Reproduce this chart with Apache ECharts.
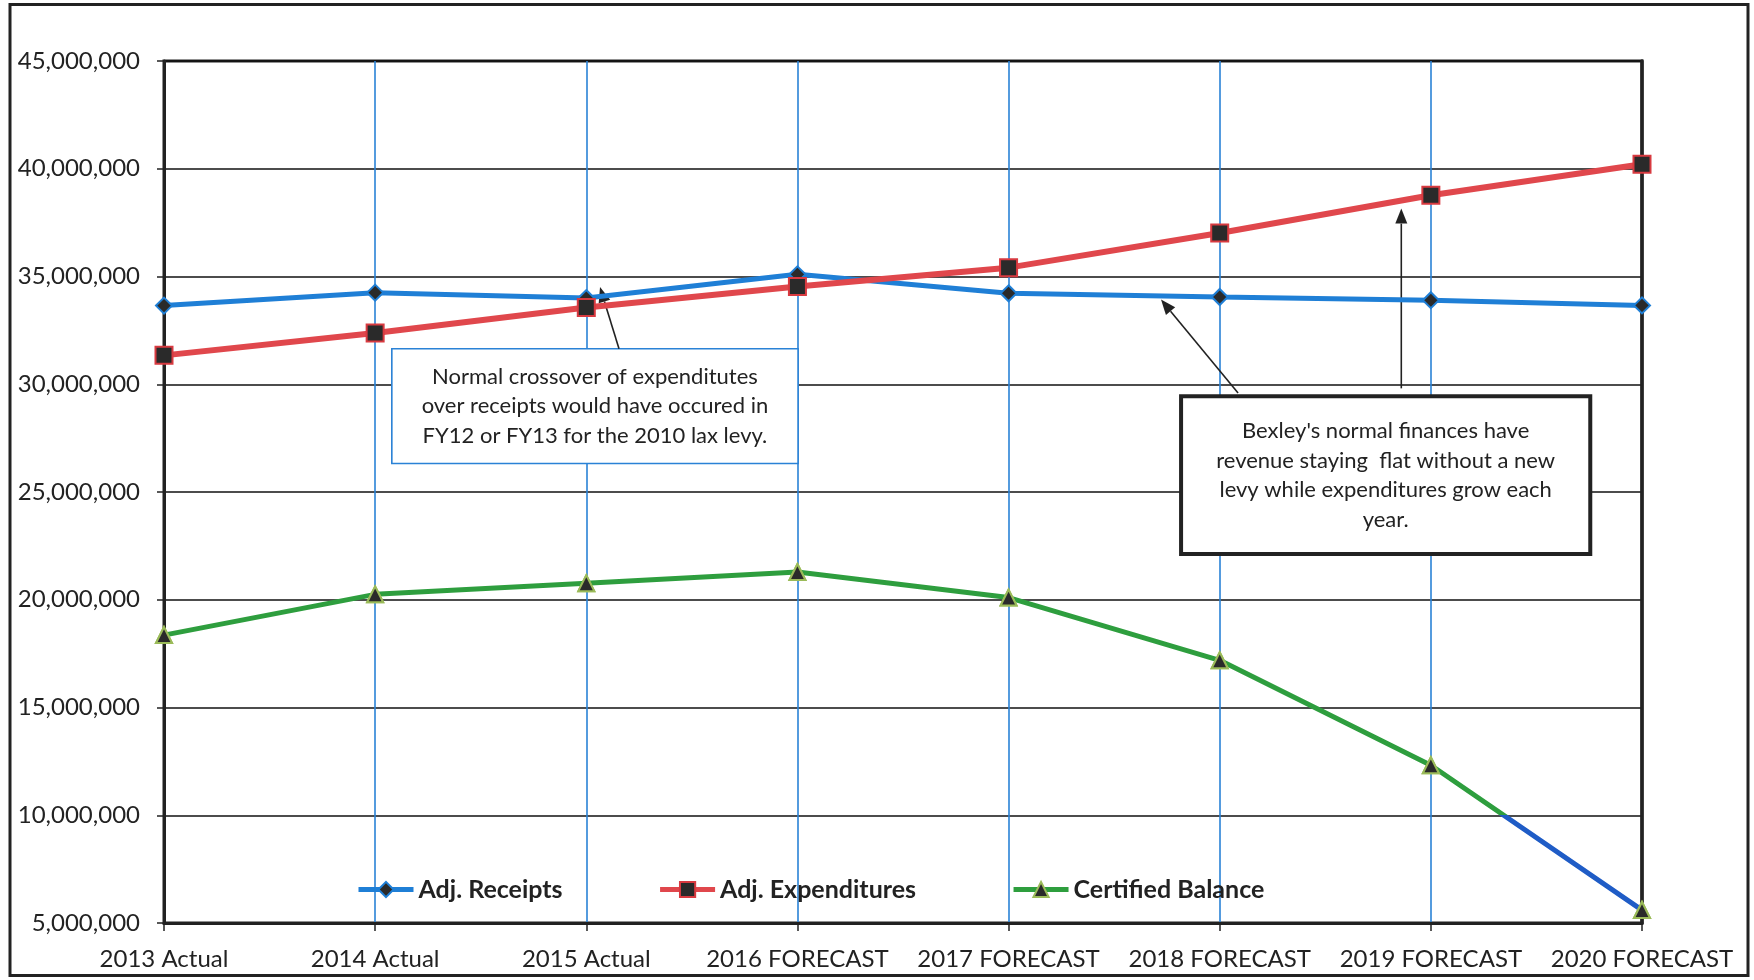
<!DOCTYPE html>
<html>
<head>
<meta charset="utf-8">
<title>Bexley Finances</title>
<script src="https://cdn.jsdelivr.net/npm/echarts@6/dist/echarts.min.js"></script>
<style>
  html, body { margin: 0; padding: 0; background: #ffffff; }
  #chart { width: 1754px; height: 980px; }
</style>
</head>
<body>
<div id="chart"></div>
<script>
// Fiscal years shown on the category axis
const years = ['2013 Actual', '2014 Actual', '2015 Actual', '2016 FORECAST',
               '2017 FORECAST', '2018 FORECAST', '2019 FORECAST', '2020 FORECAST'];

// Series values in dollars
const adjReceipts = [33650000, 34250000, 34000000, 35100000, 34220000, 34050000, 33900000, 33660000];
const adjExpenditures = [31340000, 32380000, 33560000, 34540000, 35410000, 37020000, 38770000, 40210000];
const certifiedBalance = [18360000, 20250000, 20770000, 21290000, 20100000, 17190000, 12320000, 5600000];

// Value axis range and step
const yMin = 5000000;
const yMax = 45000000;
const yStep = 5000000;

// Balance below this level is drawn in blue
const balanceWarnLevel = 10000000;

// Callout texts
const noteCrossover = [
  'Normal crossover of expenditutes',
  'over receipts would have occured in',
  'FY12 or FY13 for the 2010 lax levy.'
];
const noteFlat = [
  "Bexley's normal finances have",
  'revenue staying  flat without a new',
  'levy while expenditures grow each',
  'year.'
];

const FONT = 'Lato, "Open Sans", sans-serif';
const INK = '#222222';
const GREEN = '#2e9e3e';

const chart = echarts.init(document.getElementById('chart'), null, { renderer: 'canvas' });

const option = {
  backgroundColor: '#ffffff',
  animation: false,
  textStyle: { fontFamily: FONT, color: INK },
  grid: {
    left: 164, right: 112, top: 61, bottom: 57,
    show: true, borderColor: INK, borderWidth: 3, backgroundColor: 'transparent'
  },
  legend: {
    data: [
      { name: 'Adj. Receipts' },
      { name: 'Adj. Expenditures' },
      { name: 'Certified Balance', lineStyle: { color: GREEN, width: 5 } }
    ],
    left: 356, top: 877, padding: 0,
    itemWidth: 55, itemHeight: 19, itemGap: 95,
    lineStyle: { width: 5 },
    textStyle: { fontFamily: FONT, fontSize: 25, fontWeight: 'bold', color: INK }
  },
  visualMap: {
    show: false,
    type: 'piecewise',
    seriesIndex: 2,
    dimension: 1,
    pieces: [
      { min: 0, max: balanceWarnLevel, color: '#1f5cc6' },
      { min: balanceWarnLevel, max: 100000000, color: GREEN }
    ]
  },
  xAxis: {
    type: 'category',
    data: years,
    boundaryGap: false,
    axisLine: { lineStyle: { color: INK, width: 3 } },
    axisTick: { show: true, interval: 0, length: 8, lineStyle: { color: INK, width: 1.5 } },
    axisLabel: { interval: 0, fontFamily: FONT, fontSize: 24, color: INK, margin: 24 },
    splitLine: { show: true, interval: 0, lineStyle: { color: '#2a82d6', width: 1.6 } }
  },
  yAxis: [
    {
      type: 'value',
      min: yMin, max: yMax, interval: yStep,
      axisLine: { show: true, lineStyle: { color: INK, width: 3 } },
      axisTick: { show: true, length: 7, lineStyle: { color: INK, width: 1.5 } },
      axisLabel: {
        fontFamily: FONT, fontSize: 24, color: INK, margin: 24,
        formatter: v => v.toLocaleString('en-US')
      },
      splitLine: { show: true, lineStyle: { color: '#111111', width: 1.6 } }
    },
    {
      // right-hand frame edge of the plot area
      type: 'value', position: 'right',
      min: yMin, max: yMax, interval: yStep,
      axisLine: { show: true, lineStyle: { color: INK, width: 3.5 } },
      axisTick: { show: false }, axisLabel: { show: false },
      splitLine: { show: false }
    }
  ],
  series: [
    {
      name: 'Adj. Receipts',
      type: 'line',
      data: adjReceipts,
      symbol: 'diamond', symbolSize: 16,
      lineStyle: { color: '#1f7fd6', width: 5 },
      itemStyle: { color: '#2a2a2a', borderColor: '#1f7fd6', borderWidth: 2 },
      z: 3
    },
    {
      name: 'Adj. Expenditures',
      type: 'line',
      data: adjExpenditures,
      symbol: 'rect', symbolSize: 17,
      lineStyle: { color: '#e0474c', width: 6 },
      itemStyle: { color: '#2a2a2a', borderColor: '#d83a40', borderWidth: 2 },
      z: 4
    },
    {
      name: 'Certified Balance',
      type: 'line',
      data: certifiedBalance,
      symbol: 'triangle', symbolSize: 16,
      lineStyle: { width: 5 },
      itemStyle: { color: '#2a2a2a', borderColor: '#9bbb59', borderWidth: 2 },
      z: 3
    },
    {
      // dark triangle markers drawn over the balance line
      name: 'balanceMarkers',
      type: 'line',
      data: certifiedBalance,
      symbol: 'triangle', symbolSize: 16, showSymbol: true,
      lineStyle: { opacity: 0, width: 0 },
      itemStyle: { color: '#2a2a2a', borderColor: '#9bbb59', borderWidth: 2 },
      silent: true,
      z: 5
    }
  ]
};

chart.setOption(option);

// Pixel position from a (fractional) category index and a value
function toPx(idx, val) {
  const i0 = Math.floor(idx);
  const i1 = Math.min(i0 + 1, years.length - 1);
  const x0 = chart.convertToPixel({ xAxisIndex: 0 }, i0);
  const x1 = chart.convertToPixel({ xAxisIndex: 0 }, i1);
  const y = chart.convertToPixel({ yAxisIndex: 0 }, val);
  return [x0 + (x1 - x0) * (idx - i0), y];
}

function calloutBox(lines, from, to, stroke, lineWidth) {
  const a = toPx(from[0], from[1]);
  const b = toPx(to[0], to[1]);
  return {
    type: 'group',
    z: 20,
    children: [
      {
        type: 'rect',
        shape: { x: a[0], y: a[1], width: b[0] - a[0], height: b[1] - a[1] },
        style: { fill: '#ffffff', stroke: stroke, lineWidth: lineWidth }
      },
      {
        type: 'text',
        x: (a[0] + b[0]) / 2, y: (a[1] + b[1]) / 2,
        style: {
          text: lines.join('\n'), fill: INK,
          font: '22px ' + FONT, lineHeight: 29.5,
          align: 'center', verticalAlign: 'middle'
        }
      }
    ]
  };
}

function arrow(tail, head) {
  const t = toPx(tail[0], tail[1]);
  const h = toPx(head[0], head[1]);
  const dx = h[0] - t[0], dy = h[1] - t[1];
  const len = Math.sqrt(dx * dx + dy * dy);
  const ux = dx / len, uy = dy / len;
  const headLen = 15, headHalf = 6;
  const bx = h[0] - ux * headLen, by = h[1] - uy * headLen;
  return {
    type: 'group',
    z: 21,
    children: [
      {
        type: 'line',
        shape: { x1: t[0], y1: t[1], x2: bx, y2: by },
        style: { stroke: INK, lineWidth: 1.6 }
      },
      {
        type: 'polygon',
        shape: { points: [[h[0], h[1]], [bx - uy * headHalf, by + ux * headHalf], [bx + uy * headHalf, by - ux * headHalf]] },
        style: { fill: INK }
      }
    ]
  };
}

chart.setOption({
  graphic: [
    {
      type: 'rect', z: 0,
      shape: { x: 10, y: 4.5, width: 1738, height: 971 },
      style: { fill: 'none', stroke: INK, lineWidth: 3 }
    },
    calloutBox(noteCrossover, [1.079, 31650000], [3.003, 26320000], '#2a82d6', 1.6),
    arrow([2.155, 31650000], [2.065, 34510000]),
    calloutBox(noteFlat, [4.817, 29440000], [6.755, 22120000], INK, 4),
    arrow([5.087, 29590000], [4.722, 33930000]),
    arrow([5.86, 29810000], [5.86, 38150000])
  ]
});
</script>
</body>
</html>
